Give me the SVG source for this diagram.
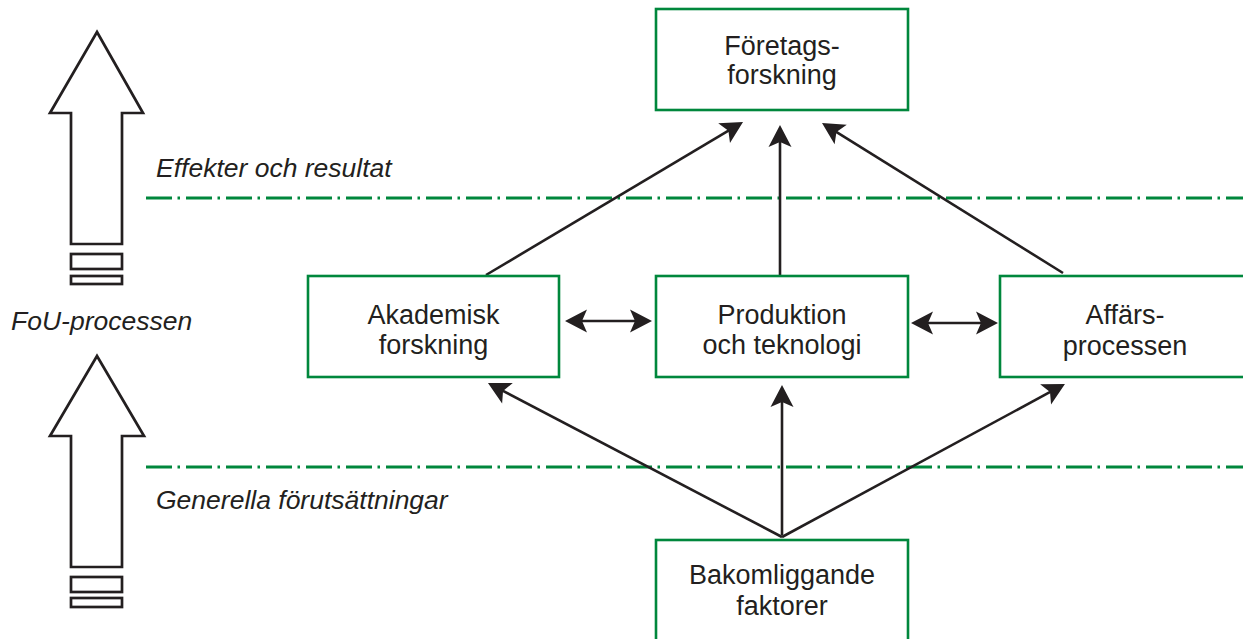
<svg xmlns="http://www.w3.org/2000/svg" width="1243" height="639" viewBox="0 0 1243 639">
<defs>
<style>
.box{fill:#fff;stroke:#00873c;stroke-width:2.6}
.lbl{font-family:"Liberation Sans",Arial,sans-serif;font-size:27px;fill:#231f20;text-anchor:middle}
.side{font-family:"Liberation Sans",Arial,sans-serif;font-size:26.5px;font-style:italic;fill:#231f20}
.dd{stroke:#00873c;stroke-width:2.8;stroke-dasharray:26 5.5 2.5 6;fill:none}
.big{fill:#fff;stroke:#231f20;stroke-width:2.7;stroke-linejoin:miter}
.con{stroke:#231f20;stroke-width:2.6;fill:none}
</style>
<marker id="ah" markerUnits="userSpaceOnUse" markerWidth="24" markerHeight="26" refX="10" refY="0" viewBox="0 -13 24 26" orient="auto-start-reverse" overflow="visible">
<path d="M22,0 L0,-11.5 L5,0 L0,11.5 Z" fill="#231f20"/>
</marker>
</defs>
<rect width="1243" height="639" fill="#fff"/>

<g id="side-arrows">
<polygon class="big" points="97,32 143,113 122,113 122,244 71,244 71,113 50,113"/>
<rect class="big" x="71" y="254" width="51" height="15"/>
<rect class="big" x="71" y="276" width="51" height="8"/>
<polygon class="big" points="97,356 144,436 122,436 122,567 71,567 71,436 50,436"/>
<rect class="big" x="71" y="577" width="51" height="15"/>
<rect class="big" x="71" y="598" width="51" height="9"/>
</g>

<g id="levels">
<line class="dd" x1="146" y1="198" x2="1243" y2="198"/>
<line class="dd" x1="146" y1="467" x2="1243" y2="467"/>
<text class="side" x="156" y="177">Effekter och resultat</text>
<text class="side" x="11" y="330">FoU-processen</text>
<text class="side" x="156" y="509">Generella förutsättningar</text>
</g>

<g id="connectors">
<line class="con" x1="486" y1="275" x2="732.7" y2="128.1" marker-end="url(#ah)"/>
<line class="con" x1="780" y1="276" x2="780" y2="137" marker-end="url(#ah)"/>
<line class="con" x1="1063" y1="273" x2="832.2" y2="129.3" marker-end="url(#ah)"/>
<line class="con" x1="782" y1="537" x2="498.6" y2="388.6" marker-end="url(#ah)"/>
<line class="con" x1="782" y1="535" x2="782" y2="397" marker-end="url(#ah)"/>
<line class="con" x1="782" y1="537" x2="1054.4" y2="389.7" marker-end="url(#ah)"/>
<line class="con" x1="577" y1="321" x2="640" y2="321" marker-start="url(#ah)" marker-end="url(#ah)"/>
<line class="con" x1="923" y1="323" x2="986" y2="323" marker-start="url(#ah)" marker-end="url(#ah)"/>
</g>

<g id="foretagsforskning">
<rect class="box" x="656" y="9" width="252" height="101"/>
<text class="lbl" x="782" y="55">Företags-</text>
<text class="lbl" x="782" y="84">forskning</text>
</g>

<g id="akademisk">
<rect class="box" x="308" y="276" width="251" height="101"/>
<text class="lbl" x="433.5" y="324">Akademisk</text>
<text class="lbl" x="433.5" y="354">forskning</text>
</g>

<g id="produktion">
<rect class="box" x="656" y="276" width="252" height="101"/>
<text class="lbl" x="782" y="324">Produktion</text>
<text class="lbl" x="782" y="354">och teknologi</text>
</g>

<g id="affarsprocessen">
<rect class="box" x="1000" y="276" width="260" height="101"/>
<text class="lbl" x="1125" y="324">Affärs-</text>
<text class="lbl" x="1125" y="355">processen</text>
</g>

<g id="bakomliggande">
<rect class="box" x="656" y="540" width="252" height="120"/>
<text class="lbl" x="782" y="584">Bakomliggande</text>
<text class="lbl" x="782" y="615">faktorer</text>
</g>
</svg>
